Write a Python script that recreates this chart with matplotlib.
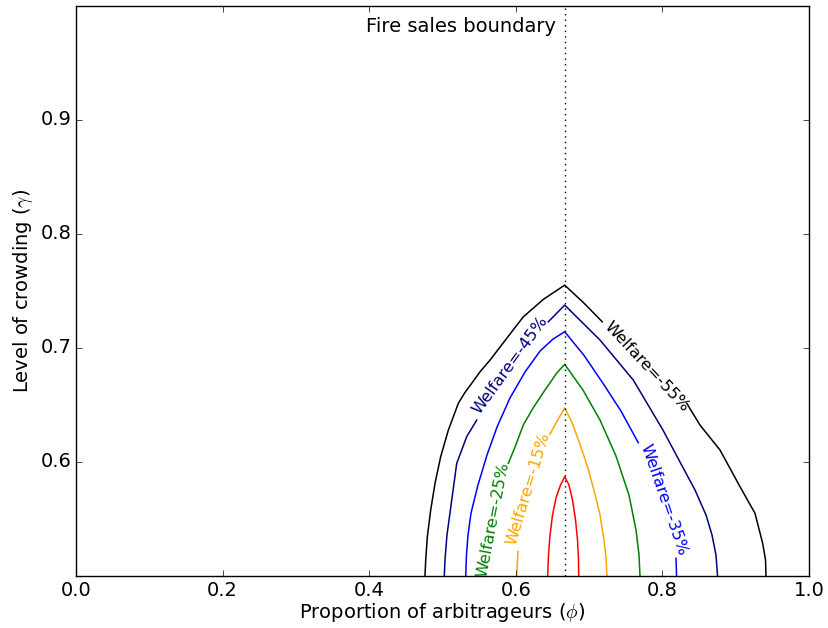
import numpy as np
import matplotlib
matplotlib.use("Agg")
import matplotlib.pyplot as plt

plt.style.use('classic')
plt.rcParams['mathtext.fontset'] = 'cm'

nan = np.nan

# welfare contours (x = phi, y = gamma); nan = gap for the inline label
levels = ["Welfare=-55%", "Welfare=-45%", "Welfare=-35%", "Welfare=-25%", "Welfare=-15%", None]
colors = ['k', 'navy', 'b', 'g', 'orange', 'r']

black_x = [0.4761, 0.4771, 0.4793, 0.4839, 0.4898, 0.4975, 0.5080, 0.5216, 0.5305, 0.5398,
           0.5515, 0.5648, 0.5876, 0.6103, 0.6376, 0.6667, 0.6930, 0.7180, nan, 0.8332,
           0.8513, 0.8786, 0.9059, 0.9263, 0.9368, 0.9407, 0.9413]
black_y = [0.500, 0.5136, 0.534, 0.5575, 0.5809, 0.6042, 0.6276, 0.6511, 0.6605, 0.6686,
           0.6790, 0.6890, 0.7081, 0.7270, 0.7423, 0.7548, 0.7390, 0.7226, nan, 0.6511,
           0.6320, 0.6101, 0.5779, 0.5546, 0.5282, 0.5136, 0.500]

navy_x = [0.5025, 0.5034, 0.5061, 0.5102, 0.5194, 0.5330, 0.5467, nan, 0.6443, 0.6667,
          0.7149, 0.7603, 0.8008, 0.8240, 0.8445, 0.8595, 0.8677, 0.8731, 0.8752]
navy_y = [0.500, 0.5136, 0.5355, 0.5548, 0.5984, 0.6218, 0.6364, nan, 0.7226, 0.7373,
          0.7066, 0.6715, 0.6276, 0.5996, 0.5750, 0.5531, 0.5355, 0.5180, 0.500]

blue_x = [0.5317, 0.5327, 0.5348, 0.5389, 0.5484, 0.5607, 0.5744, 0.5920, 0.6125, 0.6330,
          0.6508, 0.6667, 0.6930, 0.7190, 0.7435, 0.7671, nan, 0.8186, 0.8193]
blue_y = [0.500, 0.5180, 0.5355, 0.5548, 0.5794, 0.6057, 0.6303, 0.6557, 0.6785, 0.6969,
          0.7075, 0.7139, 0.6932, 0.6686, 0.6443, 0.6165, nan, 0.5151, 0.500]

green_x = [0.5898, 0.5989, 0.6102, 0.6235, 0.6398, 0.6558, 0.6667, 0.6917, 0.7149, 0.7367,
           0.7544, 0.7640, 0.7681, 0.7694]
green_y = [0.5984, 0.6127, 0.6320, 0.6469, 0.6627, 0.6776, 0.6853, 0.6627, 0.6364, 0.6048,
           0.5706, 0.5399, 0.5180, 0.500]

orange_x = [0.6012, 0.6021, 0.6030, nan, 0.6467, 0.6562, 0.6667, 0.6753, 0.6835, 0.6917,
            0.6999, 0.7080, 0.7149, 0.7203, 0.7231, 0.7244]
orange_y = [0.500, 0.5118, 0.5209, nan, 0.6241, 0.6355, 0.6469, 0.6364, 0.6224, 0.6075,
            0.5908, 0.5715, 0.5531, 0.5311, 0.5154, 0.500]

red_x = [0.6435, 0.6446, 0.6467, 0.6501, 0.6548, 0.6610, 0.6667, 0.6726, 0.6774, 0.6815,
         0.6842, 0.6855, 0.6858]
red_y = [0.500, 0.5180, 0.5355, 0.5531, 0.5680, 0.5794, 0.5867, 0.5794, 0.5662, 0.5487,
         0.5311, 0.5154, 0.500]

curves_x = [black_x, navy_x, blue_x, green_x, orange_x, red_x]
curves_y = [black_y, navy_y, blue_y, green_y, orange_y, red_y]

# inline label placement (center in data coords, rotation in degrees)
label_pos = [(0.7786, 0.6832, -47), (0.5921, 0.6846, 54), (0.8013, 0.5662, -71),
             (0.5685, 0.5487, 79), (0.6171, 0.5765, 73), None]

boundary = 2.0 / 3.0

fig = plt.figure(figsize=(8.29, 6.28), dpi=100)
ax = fig.add_axes([76 / 829, 52.5 / 628, 733 / 829, 569.8 / 628])

for cx, cy, c in zip(curves_x, curves_y, colors):
    ax.plot(cx, cy, color=c, lw=1.1)

for lab, pos, c in zip(levels, label_pos, colors):
    if lab is None:
        continue
    ax.text(pos[0], pos[1], lab, color=c, fontsize=11.7, rotation=pos[2],
            ha='center', va='center', rotation_mode='anchor')

ax.axvline(boundary, color='k', linestyle=':', lw=1.0)
ax.text(boundary - 0.012, 0.9815, 'Fire sales boundary', fontsize=14,
        ha='right', va='center')

ax.set_xlim(0, 1)
ax.set_ylim(0.5, 1.0)
ax.set_xticks([0.0, 0.2, 0.4, 0.6, 0.8, 1.0])
ax.set_yticks([0.6, 0.7, 0.8, 0.9])
ax.tick_params(labelsize=14)
ax.tick_params(axis='y', pad=3)
ax.set_xlabel(r'Proportion of arbitrageurs ($\phi$)', fontsize=14, labelpad=0.5)
ax.set_ylabel(r'Level of crowding ($\gamma$)', fontsize=14, labelpad=4)

fig.savefig('out.png', dpi=100, facecolor='white')
